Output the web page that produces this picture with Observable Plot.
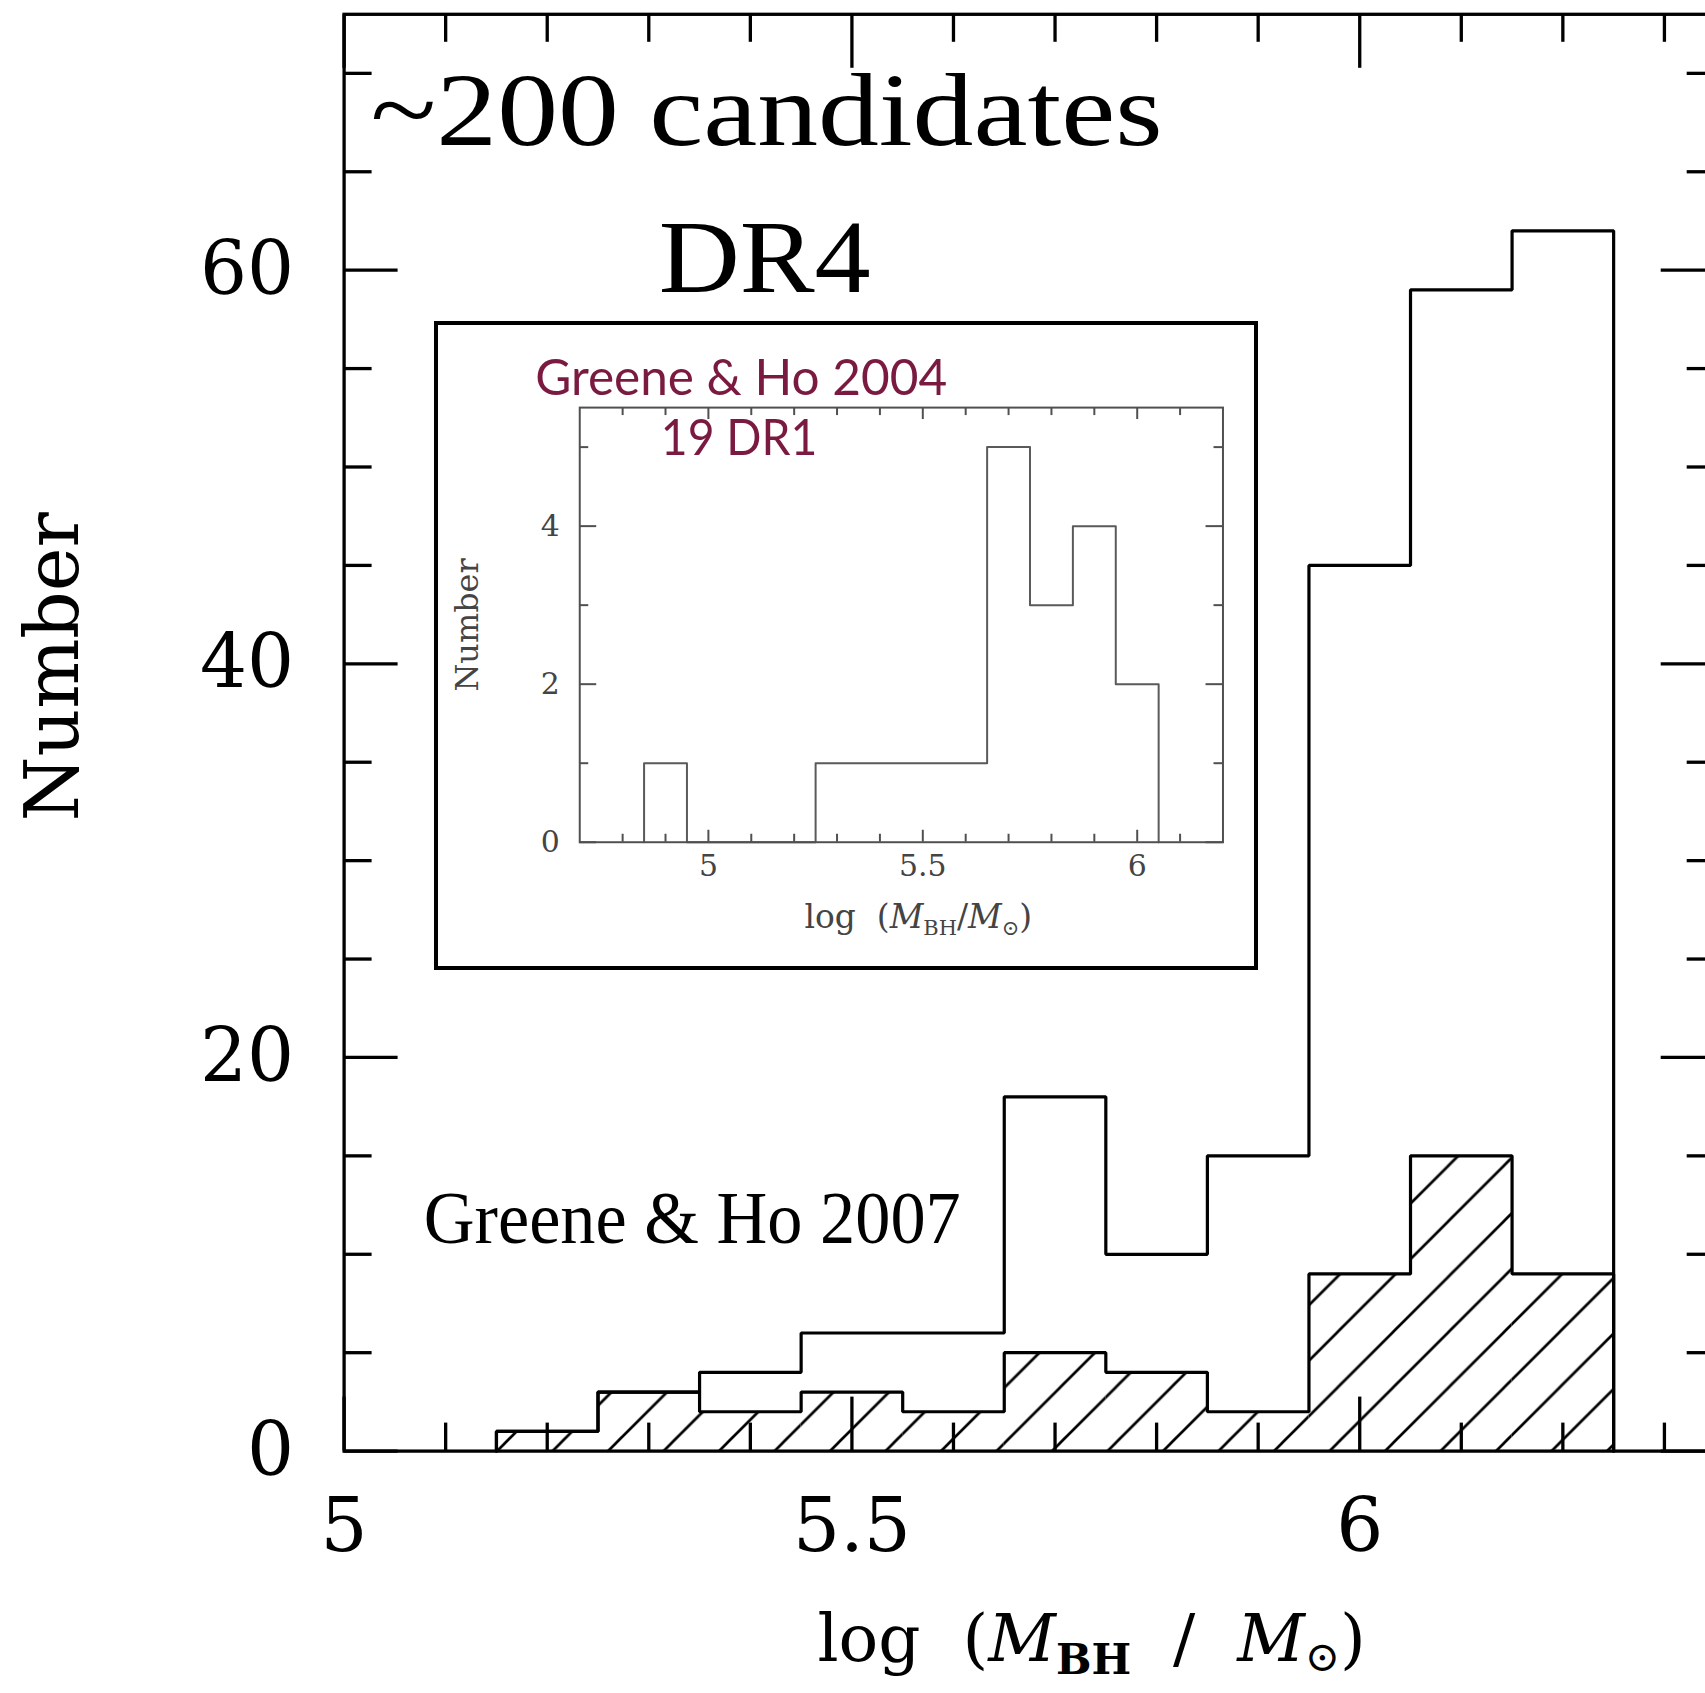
<!DOCTYPE html>
<html><head><meta charset="utf-8">
<script src="https://cdn.jsdelivr.net/npm/d3@7"></script>
<script src="https://cdn.jsdelivr.net/npm/@observablehq/plot@0.6"></script>
<style>
html,body{margin:0;padding:0;background:#fff;overflow:hidden}
#wrap{position:relative;width:1705px;height:1693px;overflow:hidden;background:#fff}
#insetBox{position:absolute;left:434px;top:321px;width:824px;height:649px;border:4px solid #000;box-sizing:border-box;background:#fff}
#inset{position:absolute;left:-2px;top:-2px}
</style></head><body>
<div id="wrap"><div id="main"></div><div id="insetBox"><div id="inset"></div></div></div>
<script>
// ---------------- data ----------------
const BIN_W = 0.1;
const binStarts = [5.15, 5.25, 5.35, 5.45, 5.55, 5.65, 5.75, 5.85, 5.95, 6.05, 6.15];
const allCounts = [1, 3, 4, 6, 6, 18, 10, 15, 45, 59, 62];          // DR4, all candidates
const hatchedCounts = [1, 3, 2, 3, 2, 5, 4, 2, 9, 15, 9];         // hatched subsample

const insetStarts = [4.85, 4.95, 5.05, 5.15, 5.25, 5.35, 5.45, 5.55, 5.65, 5.75, 5.85, 5.95];
const insetCounts = [1, 0, 0, 0, 1, 1, 1, 1, 5, 3, 4, 2];           // Greene & Ho 2004, 19 DR1

const yMajorTicks = [0, 20, 40, 60];
const yMinorTicks = [5, 10, 15, 25, 30, 35, 45, 50, 55, 65, 70];
const xMajorTicks = [5, 5.5, 6];
const xMinorTicks = [5.1, 5.2, 5.3, 5.4, 5.6, 5.7, 5.8, 5.9, 6.1, 6.2, 6.3];
const yTickLabels = [0, 20, 40, 60];
const xTickLabels = [5, 5.5, 6];

const insetYMajor = [0, 2, 4];
const insetYMinor = [1, 3, 5];
const insetXMajor = [5, 5.5, 6];
const insetXMinor = [4.8, 4.9, 5.1, 5.2, 5.3, 5.4, 5.6, 5.7, 5.8, 5.9, 6.1];
const insetYLabels = [0, 2, 4];
const insetXLabels = [5, 5.5, 6];

const mainNotes = [
  {label: "~200 candidates", x: 5.026, y: 66.35},
  {label: "DR4", x: 5.3097, y: 58.9},
  {label: "Greene & Ho 2007", x: 5.0784, y: 10.55}
];
const insetNotes = [
  {label: "Greene & Ho 2004", x: 4.596, y: 5.66},
  {label: "19 DR1", x: 4.889, y: 4.905}
];

// ---------------- helpers ----------------
function outline(starts, counts) {
  const pts = [{x: starts[0], y: 0}];
  starts.forEach((s, i) => pts.push({x: s, y: counts[i]}));
  pts.push({x: starts[starts.length - 1] + BIN_W, y: 0});
  return pts;
}
const hatchBins = binStarts.map((s, i) => ({x1: s, x2: s + BIN_W, n: hatchedCounts[i]}));

function findText(svg, str) {
  return d3.select(svg).selectAll("text").filter(function () { return this.textContent === str; });
}
function richLabel(svg, marker, parts) {
  findText(svg, marker).each(function () {
    const t = d3.select(this);
    t.text(null);
    let cur = 0;
    for (const p of parts) {
      const s = t.append("tspan").text(p.t);
      const target = p.sub || 0;
      if (target !== cur) s.attr("dy", target - cur);
      cur = target;
      if (p.italic) s.attr("font-style", "italic");
      if (p.bold) s.attr("font-weight", "bold");
      if (p.size) s.attr("font-size", p.size);
    }
  });
}
function stretch(svg, str, len) {
  findText(svg, str).attr("textLength", len).attr("lengthAdjust", "spacingAndGlyphs");
}

// ---------------- main chart ----------------
const W = 1705, H = 1693;
const ML = 343.6, MT = 13.8, MR = -9.7, MB = 242.4;
const FW = W - ML - MR, FH = H - MT - MB;
const MAJ = 54, MIN = 28, LW = 3.3;
const XLABEL = "log (M_BH / M_sun)";

const main = Plot.plot({
  width: W, height: H,
  marginLeft: ML, marginTop: MT, marginRight: MR, marginBottom: MB,
  x: {domain: [5, 6.35], axis: null},
  y: {domain: [0, 73], axis: null},
  style: {fontFamily: "DejaVu Serif", background: "white", color: "black"},
  marks: [
    Plot.rectY(hatchBins, {x1: "x1", x2: "x2", y: "n", fill: "url(#hatch)"}),
    Plot.line(outline(binStarts, hatchedCounts), {x: "x", y: "y", curve: "step-after", stroke: "black", strokeWidth: 3.2, strokeLinejoin: "miter"}),
    Plot.line(outline(binStarts, allCounts), {x: "x", y: "y", curve: "step-after", stroke: "black", strokeWidth: 3.2, strokeLinejoin: "miter"}),
    // inward ticks
    Plot.tickY(yMajorTicks, {y: d => d, insetRight: FW - MAJ, stroke: "black", strokeWidth: LW}),
    Plot.tickY(yMinorTicks, {y: d => d, insetRight: FW - MIN, stroke: "black", strokeWidth: LW}),
    Plot.tickY(yMajorTicks, {y: d => d, insetLeft: FW - MAJ, stroke: "black", strokeWidth: LW}),
    Plot.tickY(yMinorTicks, {y: d => d, insetLeft: FW - MIN, stroke: "black", strokeWidth: LW}),
    Plot.tickX(xMajorTicks, {x: d => d, insetBottom: FH - MAJ, stroke: "black", strokeWidth: LW}),
    Plot.tickX(xMinorTicks, {x: d => d, insetBottom: FH - MIN, stroke: "black", strokeWidth: LW}),
    Plot.tickX(xMajorTicks, {x: d => d, insetTop: FH - MAJ, stroke: "black", strokeWidth: LW}),
    Plot.tickX(xMinorTicks, {x: d => d, insetTop: FH - MIN, stroke: "black", strokeWidth: LW}),
    Plot.frame({stroke: "black", strokeWidth: LW}),
    // tick labels
    Plot.text(yTickLabels, {y: d => d, text: d => String(d), frameAnchor: "left", textAnchor: "end", dx: -50, fontSize: 74, fill: "black"}),
    Plot.text(xTickLabels, {x: d => d, text: d => String(d), frameAnchor: "bottom", dy: 100, fontSize: 74, fill: "black"}),
    // axis labels
    Plot.text(["Number"], {text: d => d, frameAnchor: "left", textAnchor: "middle", rotate: -90, dx: -290, dy: -66, fontSize: 74, fill: "black"}),
    Plot.text([XLABEL], {text: d => d, frameAnchor: "bottom", lineAnchor: "bottom", dx: 62, dy: 210, fontSize: 66, fill: "black"}),
    // annotations
    Plot.text(mainNotes, {x: "x", y: "y", text: "label", textAnchor: "start", lineAnchor: "bottom", fontFamily: "Liberation Serif",
      fontSize: d => d.label === "Greene & Ho 2007" ? 75 : 104, fill: "black"})
  ]
});
document.getElementById("main").appendChild(main);

// hatch pattern
const P = 55.5;
const defs = d3.select(main).insert("defs", ":first-child");
const pat = defs.append("pattern").attr("id", "hatch").attr("patternUnits", "userSpaceOnUse")
  .attr("width", P).attr("height", P).attr("x", 5.6).attr("y", 0);
pat.append("path")
  .attr("d", `M0,${P} L${P},0 M${-P / 2},${P / 2} L${P / 2},${-P / 2} M${P / 2},${1.5 * P} L${1.5 * P},${P / 2}`)
  .attr("stroke", "black").attr("stroke-width", 2.7).attr("fill", "none");

stretch(main, "~200 candidates", 792);
stretch(main, "DR4", 212);
stretch(main, "Greene & Ho 2007", 537);
richLabel(main, XLABEL, [
  {t: "log  ("}, {t: "M", italic: true}, {t: "BH", size: 42, sub: 13, bold: true},
  {t: "  /  "}, {t: "M", italic: true}, {t: "\u2299", size: 42, sub: 10}, {t: ")"}
]);

// ---------------- inset chart ----------------
const IW = 820, IH = 645;
const IML = 143.6, IMT = 84.3, IMR = 31.6, IMB = 125;
const IFW = IW - IML - IMR, IFH = IH - IMT - IMB;
const IG = "#505050";
const IXLABEL = "log (M_BH/M_sun)";

const inset = Plot.plot({
  width: IW, height: IH,
  marginLeft: IML, marginTop: IMT, marginRight: IMR, marginBottom: IMB,
  x: {domain: [4.7, 6.2], axis: null},
  y: {domain: [0, 5.5], axis: null},
  style: {fontFamily: "DejaVu Serif", background: "transparent", overflow: "visible"},
  marks: [
    Plot.line(outline(insetStarts, insetCounts), {x: "x", y: "y", curve: "step-after", stroke: "#5a5a5a", strokeWidth: 2}),
    Plot.tickY(insetYMajor, {y: d => d, insetRight: IFW - 17, stroke: IG, strokeWidth: 2}),
    Plot.tickY(insetYMinor, {y: d => d, insetRight: IFW - 9, stroke: IG, strokeWidth: 2}),
    Plot.tickY(insetYMajor, {y: d => d, insetLeft: IFW - 17, stroke: IG, strokeWidth: 2}),
    Plot.tickY(insetYMinor, {y: d => d, insetLeft: IFW - 9, stroke: IG, strokeWidth: 2}),
    Plot.tickX(insetXMajor, {x: d => d, insetBottom: IFH - 12, stroke: IG, strokeWidth: 2}),
    Plot.tickX(insetXMinor, {x: d => d, insetBottom: IFH - 8, stroke: IG, strokeWidth: 2}),
    Plot.tickX(insetXMajor, {x: d => d, insetTop: IFH - 12, stroke: IG, strokeWidth: 2}),
    Plot.tickX(insetXMinor, {x: d => d, insetTop: IFH - 8, stroke: IG, strokeWidth: 2}),
    Plot.frame({stroke: IG, strokeWidth: 2}),
    Plot.text(insetYLabels, {y: d => d, text: d => String(d), frameAnchor: "left", textAnchor: "end", dx: -20, fontSize: 30, fill: "#444"}),
    Plot.text(insetXLabels, {x: d => d, text: d => String(d), frameAnchor: "bottom", dy: 34, fontSize: 30, fill: "#444"}),
    Plot.text(["Number"], {text: d => d, frameAnchor: "left", textAnchor: "middle", rotate: -90, dx: -112, fontSize: 32, fill: "#444"}),
    Plot.text([IXLABEL], {text: d => d, frameAnchor: "bottom", lineAnchor: "bottom", dx: 17, dy: 86, fontSize: 33, fill: "#444"}),
    Plot.text(insetNotes, {x: "x", y: "y", text: "label", textAnchor: "start", lineAnchor: "bottom", fontFamily: "Lato", fontSize: 50, fill: "#7b1a40"})
  ]
});
document.getElementById("inset").appendChild(inset);
stretch(inset, "Greene & Ho 2004", 413);
stretch(inset, "19 DR1", 157);
richLabel(inset, IXLABEL, [
  {t: "log  ("}, {t: "M", italic: true}, {t: "BH", size: 21, sub: 7}, {t: "/"},
  {t: "M", italic: true}, {t: "\u2299", size: 21, sub: 7}, {t: ")"}
]);
</script>
</body></html>
